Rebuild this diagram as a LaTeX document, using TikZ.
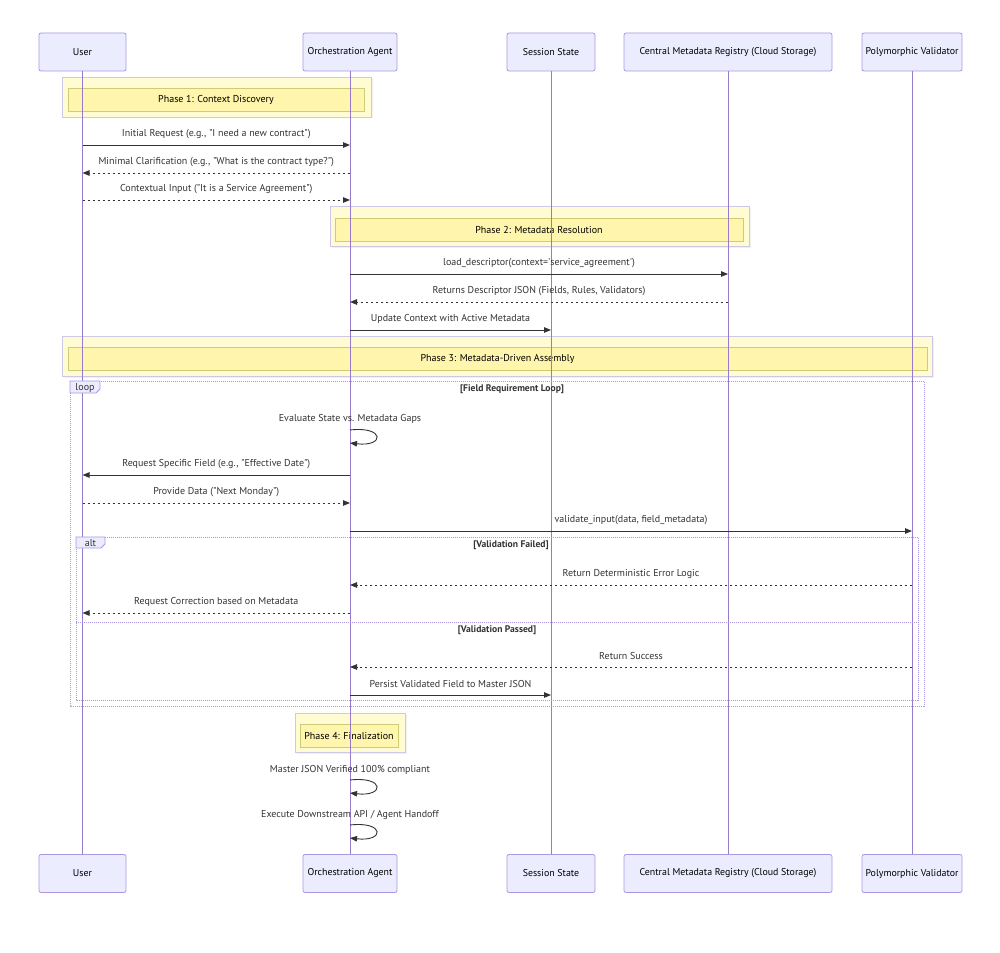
\documentclass[tikz,border=0pt]{standalone}
\usepackage{fontspec}
\setmainfont{PT Sans}
\usetikzlibrary{positioning,arrows.meta,calc,shadows}

\definecolor{actorfill}{RGB}{236,236,255}
\definecolor{actorline}{RGB}{170,150,225}
\definecolor{lifeline}{RGB}{150,122,205}
\definecolor{notefill}{RGB}{255,245,173}
\definecolor{noteline}{RGB}{205,205,120}
\definecolor{phasefill}{RGB}{255,252,212}
\definecolor{phaseline}{RGB}{205,200,228}
\definecolor{msgcol}{RGB}{51,51,51}

\newcommand{\dq}{\textquotedbl}
\newcommand{\sq}{\textquotesingle}

\tikzset{
  actor/.style={draw=actorline, fill=actorfill, rounded corners=2pt, minimum height=38pt, inner sep=0pt, line width=0.8pt, font=\fontsize{9.9}{11}\selectfont},
  life/.style={draw=lifeline, line width=0.8pt},
  phasebg/.style={draw=phaseline, fill=phasefill, line width=0.9pt, inner sep=0pt, minimum height=40pt, drop shadow={opacity=0.12, shadow xshift=1.5pt, shadow yshift=-1.5pt}},
  note/.style={draw=noteline, fill=notefill, inner sep=0pt, minimum height=23pt, line width=0.7pt, font=\fontsize{10}{11}\selectfont},
  msg/.style={draw=msgcol, line width=0.9pt, -{Triangle[length=7pt,width=5.5pt]}},
  reply/.style={msg, dash pattern=on 2.5pt off 2.5pt},
  lbl/.style={text=msgcol, inner sep=0pt, font=\fontsize{10}{11}\selectfont},
  frame/.style={draw=actorline, line width=0.8pt, dash pattern=on 1pt off 1pt},
  tab/.style={draw=actorline, fill=actorfill, line width=0.8pt},
  guard/.style={text=msgcol, inner sep=0pt, font=\bfseries\fontsize{9.6}{11}\selectfont}
}

\begin{document}
\begin{tikzpicture}[x=1pt,y=-1pt]
\useasboundingbox (0,0) rectangle (1000,952);

% participants, top and bottom
\node[actor, minimum width=87pt]  (user)      at (82.5,52)  {User};
\node[actor, minimum width=94pt]  (orch)      at (350,52)   {Orchestration Agent};
\node[actor, minimum width=88pt]  (sess)      at (551,52)   {Session State};
\node[actor, minimum width=208pt] (registry)  at (728,52)   {Central Metadata Registry (Cloud Storage)};
\node[actor, minimum width=100pt] (validator) at (912,52)   {Polymorphic Validator};

\node[actor, minimum width=87pt]  (userB)      at (82.5,873.5) {User};
\node[actor, minimum width=94pt]  (orchB)      at (350,873.5)  {Orchestration Agent};
\node[actor, minimum width=88pt]  (sessB)      at (551,873.5)  {Session State};
\node[actor, minimum width=208pt] (registryB)  at (728,873.5)  {Central Metadata Registry (Cloud Storage)};
\node[actor, minimum width=100pt] (validatorB) at (912,873.5)  {Polymorphic Validator};

% phase bands
\node[phasebg, minimum width=309pt] (phaseA) at (216.5,97) {};
\node[note, minimum width=296pt] (noteA) at (216,99.5) {Phase 1: Context Discovery};
\node[phasebg, minimum width=419pt] (phaseB) at (539.5,226) {};
\node[note, minimum width=408pt] (noteB) at (539,229.5) {Phase 2: Metadata Resolution};
\node[phasebg, minimum width=870pt] (phaseC) at (497,356) {};
\node[note, minimum width=859pt] (noteC) at (497.5,358.5) {Phase 3: Metadata-Driven Assembly};
\node[phasebg, minimum width=110pt, minimum height=39pt] (phaseD) at (350,732.5) {};
\node[note, minimum width=98pt] (noteD) at (349,735.5) {Phase 4: Finalization};

% lifelines
\draw[life] (user) -- (userB);
\draw[life] (orch) -- (orchB);
\draw[life] (sess) -- (sessB);
\draw[life] (registry) -- (registryB);
\draw[life] (validator) -- (validatorB);

% loop and alt frames
\draw[frame] (70,381) rectangle (924,706);
\draw[tab] (70,381) -- (100,381) -- (100,389) -- (96,393) -- (70,393) -- cycle;
\node[lbl] (looptag) at (85,387.5) {loop};
\node[guard] (loopguard) at (512,389) {[Field Requirement Loop]};
\draw[frame] (76,537) rectangle (918,700);
\draw[frame] (76,622) -- (918,622);
\draw[tab] (76,537) -- (105,537) -- (105,544) -- (101,548) -- (76,548) -- cycle;
\node[lbl] (alttag) at (90.5,543) {alt};
\node[guard] (failguard) at (511,545) {[Validation Failed]};
\node[guard] (passguard) at (497,630) {[Validation Passed]};

% phase 1
\draw[msg] (user |- 0,145) -- node[lbl, yshift=11pt] {Initial Request (e.g., \dq I need a new contract\dq)} (orch |- 0,145);
\draw[reply] (orch |- 0,173) -- node[lbl, yshift=11pt] {Minimal Clarification (e.g., \dq What is the contract type?\dq)} (user |- 0,173);
\draw[reply] (user |- 0,200) -- node[lbl, yshift=11pt] {Contextual Input (\dq It is a Service Agreement\dq)} (orch |- 0,200);

% phase 2
\draw[msg] (orch |- 0,274) -- node[lbl, yshift=11pt] {load\_descriptor(context=\sq service\_agreement\sq)} (registry |- 0,274);
\draw[reply] (registry |- 0,302) -- node[lbl, yshift=11pt] {Returns Descriptor JSON (Fields, Rules, Validators)} (orch |- 0,302);
\draw[msg] (orch |- 0,330) -- node[lbl, yshift=11pt] {Update Context with Active Metadata} (sess |- 0,330);

% phase 3
\node[lbl] (evalgaps) at (350,419) {Evaluate State vs. Metadata Gaps};
\draw[msg] (orch |- 0,430) .. controls +(35,-4) and +(35,4) .. (orch |- 0,443);
\draw[msg] (orch |- 0,475) -- node[lbl, yshift=11pt] {Request Specific Field (e.g., \dq Effective Date\dq)} (user |- 0,475);
\draw[reply] (user |- 0,503) -- node[lbl, yshift=11pt] {Provide Data (\dq Next Monday\dq)} (orch |- 0,503);
\draw[msg] (orch |- 0,531) -- node[lbl, yshift=11pt] {validate\_input(data, field\_metadata)} (validator |- 0,531);
\draw[reply] (validator |- 0,585) -- node[lbl, yshift=11pt] {Return Deterministic Error Logic} (orch |- 0,585);
\draw[reply] (orch |- 0,613) -- node[lbl, yshift=11pt] {Request Correction based on Metadata} (user |- 0,613);
\draw[reply] (validator |- 0,667) -- node[lbl, yshift=11pt] {Return Success} (orch |- 0,667);
\draw[msg] (orch |- 0,695) -- node[lbl, yshift=11pt] {Persist Validated Field to Master JSON} (sess |- 0,695);

% phase 4
\node[lbl] (verified) at (350,770) {Master JSON Verified 100\% compliant};
\draw[msg] (orch |- 0,780) .. controls +(35,-4) and +(35,4) .. (orch |- 0,793);
\node[lbl] (handoff) at (350,815) {Execute Downstream API / Agent Handoff};
\draw[msg] (orch |- 0,825) .. controls +(35,-4) and +(35,4) .. (orch |- 0,838);
\end{tikzpicture}
\end{document}
